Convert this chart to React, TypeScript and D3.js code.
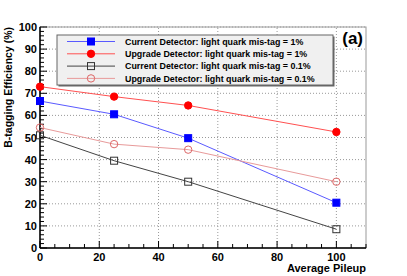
import React from 'react';
import * as d3 from 'd3';

const pileup = [0, 25, 50, 100];
const currentTight = [66.5, 60.5, 49.7, 20.5];
const upgradeTight = [73, 68.5, 64.5, 52.5];
const currentLoose = [51, 39.5, 30, 8.5];
const upgradeLoose = [54.5, 47, 44.5, 30];
const legendLabels = [
  'Current Detector: light quark mis-tag = 1%',
  'Upgrade Detector: light quark mis-tag = 1%',
  'Current Detector: light quark mis-tag = 0.1%',
  'Upgrade Detector: light quark mis-tag = 0.1%',
];
const xTicks = [0, 20, 40, 60, 80, 100];
const yTicks = [0, 10, 20, 30, 40, 50, 60, 70, 80, 90, 100];

const W = 407;
const H = 276;
const margin = { top: 27, right: 41, bottom: 28, left: 40 };
const font = '"Liberation Sans", Arial, sans-serif';

const series = [
  { values: currentTight, color: '#0000ff', line: '#5a5aff', marker: 'square', filled: true },
  { values: upgradeTight, color: '#ff0000', line: '#ff5050', marker: 'circle', filled: true },
  { values: currentLoose, color: '#333333', line: '#444444', marker: 'square', filled: false },
  { values: upgradeLoose, color: '#dd6666', line: '#e89a9a', marker: 'circle', filled: false },
];

const Marker = ({ kind, filled, color, cx, cy }: any) =>
  kind === 'square' ? (
    <rect x={cx - 3.5} y={cy - 3.5} width={7} height={7}
      fill={filled ? color : 'none'} stroke={color} strokeWidth={1} />
  ) : (
    <circle cx={cx} cy={cy} r={3.7}
      fill={filled ? color : 'none'} stroke={color} strokeWidth={1} />
  );

export default function App() {
  const x = d3.scaleLinear().domain([0, 110]).range([margin.left, W - margin.right]);
  const y = d3.scaleLinear().domain([0, 100]).range([H - margin.bottom, margin.top]);
  const line = d3.line<number>().x((_, i) => x(pileup[i])).y((d) => y(d));
  const x0 = margin.left, x1 = W - margin.right, y0 = H - margin.bottom, y1 = margin.top;
  const xMinor = d3.range(0, 111, 5);
  const yMinor = d3.range(0, 101, 2);

  const lg = { x: 57, y: 35, w: 276, h: 50 };

  return (
    <svg width={W} height={H} style={{ position: 'absolute', left: 0, top: 0 }}
      fontFamily={font} fontWeight="bold">
      <rect width={W} height={H} fill="#fff" />
      {/* grid */}
      {xTicks.filter((t) => t > 0).map((t) => (
        <line key={'gx' + t} x1={x(t)} x2={x(t)} y1={y0} y2={y1} stroke="#999" strokeDasharray="1,2" />
      ))}
      {yTicks.filter((t) => t > 0).map((t) => (
        <line key={'gy' + t} x1={x0} x2={x1} y1={y(t)} y2={y(t)} stroke="#999" strokeDasharray="1,2" />
      ))}
      {/* frame */}
      <rect x={x0} y={y1} width={x1 - x0} height={y0 - y1} fill="none" stroke="#999" strokeWidth={1} />
      <line x1={x0} x2={x1} y1={y0} y2={y0} stroke="#000" strokeWidth={1.5} />
      <line x1={x0} x2={x0} y1={y0} y2={y1} stroke="#000" strokeWidth={1.5} />
      {xMinor.map((t) => (
        <line key={'tx' + t} x1={x(t)} x2={x(t)} y1={y0} y2={y0 - (t % 20 === 0 ? 7 : 4)} stroke="#000" />
      ))}
      {yMinor.map((t) => (
        <line key={'ty' + t} x1={x0} x2={x0 + (t % 10 === 0 ? 7 : 4)} y1={y(t)} y2={y(t)} stroke="#000" />
      ))}
      {xTicks.map((t) => (
        <text key={'lx' + t} x={x(t)} y={y0 + 13} fontSize={11} textAnchor="middle">{t}</text>
      ))}
      {yTicks.map((t) => (
        <text key={'ly' + t} x={x0 - 3} y={y(t) + 4} fontSize={11} textAnchor="end">{t}</text>
      ))}
      <text x={x1} y={H - 4} fontSize={11} textAnchor="end">Average Pileup</text>
      <text transform={`translate(12,${y1}) rotate(-90)`} fontSize={10.5} textAnchor="end">
        B-tagging Efficiency (%)
      </text>
      {/* series */}
      {series.map((s, i) => (
        <g key={'s' + i}>
          <path d={line(s.values) || ''} fill="none" stroke={s.line} strokeWidth={1} />
          {s.values.map((v, j) => (
            <Marker key={j} kind={s.marker} filled={s.filled} color={s.color} cx={x(pileup[j])} cy={y(v)} />
          ))}
        </g>
      ))}
      {/* legend */}
      <rect x={lg.x + 1.5} y={lg.y + 1.5} width={lg.w} height={lg.h} fill="#666" />
      <rect x={lg.x} y={lg.y} width={lg.w} height={lg.h} fill="#f0f0f0" stroke="#666" />
      {series.map((s, i) => {
        const cy = lg.y + 6.5 + i * 12.3;
        return (
          <g key={'lg' + i}>
            <line x1={lg.x + 10} x2={lg.x + 58} y1={cy} y2={cy} stroke={s.line} />
            <Marker kind={s.marker} filled={s.filled} color={s.color} cx={lg.x + 34} cy={cy} />
            <text x={lg.x + 68} y={cy + 3.3} fontSize={8.9}>{legendLabels[i]}</text>
          </g>
        );
      })}
      <text x={x1 - 3} y={y1 + 17} fontSize={17} textAnchor="end">(a)</text>
    </svg>
  );
}
